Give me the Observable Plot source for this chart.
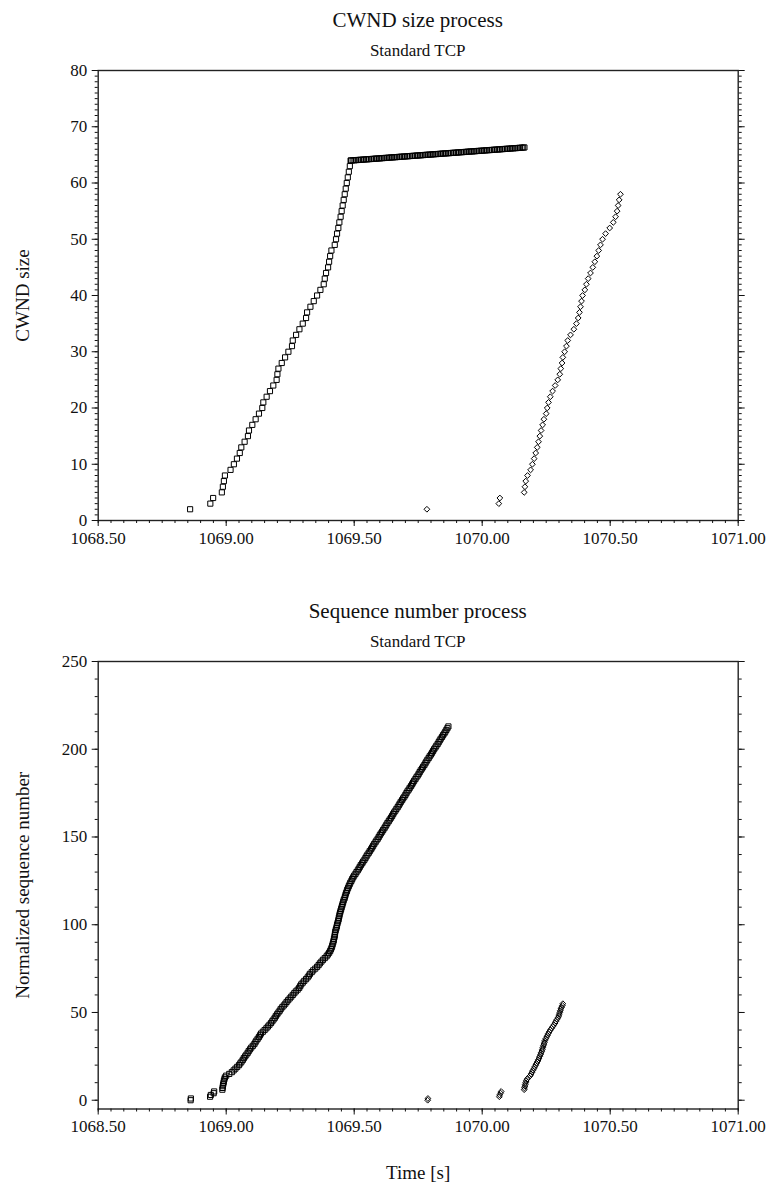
<!DOCTYPE html>
<html><head><meta charset="utf-8">
<script src="https://cdn.jsdelivr.net/npm/d3@7"></script>
<script src="https://cdn.jsdelivr.net/npm/@observablehq/plot@0.6"></script>
<style>
body{margin:0;background:#fff;width:769px;height:1187px;position:relative;font-family:"Liberation Serif","Times New Roman",serif;color:#111;overflow:hidden}
.t{position:absolute;left:97.7px;width:640px;text-align:center;white-space:nowrap}
.title{font-size:21px;line-height:24px}
.sub{font-size:17px;line-height:20px}
.c{position:absolute;left:0}
</style></head><body>
<div class="t title" style="top:8px">CWND size process</div>
<div class="t sub" style="top:41px">Standard TCP</div>
<div id="c1" class="c" style="top:60px"></div>
<div class="t title" style="top:599px">Sequence number process</div>
<div class="t sub" style="top:632px">Standard TCP</div>
<div id="c2" class="c" style="top:651px"></div>
<script>
// ---- axis tick values ----
const xMajorTicks = [1068.5, 1069.0, 1069.5, 1070.0, 1070.5, 1071.0];
const xMinorTicks = d3.range(1068.5, 1071.001, 0.05);
const cwndMajorTicks = [0, 10, 20, 30, 40, 50, 60, 70, 80];
const cwndMinorTicks = d3.range(0, 80.5, 1);
const seqMajorTicks = [0, 50, 100, 150, 200, 250];
const seqMinorTicks = d3.range(0, 250.5, 10);

// ---- CWND, connection 1 (squares): slow start ----
const cwndSqTime = [1068.859,1068.938,1068.949,1068.983,1068.987,1068.991,1068.995,1069.017,1069.030,1069.042,
  1069.053,1069.059,1069.072,1069.085,1069.089,1069.102,1069.115,1069.128,1069.141,1069.145,
  1069.158,1069.171,1069.184,1069.197,1069.200,1069.204,1069.217,1069.230,1069.243,1069.257,
  1069.260,1069.273,1069.286,1069.299,1069.312,1069.316,1069.329,1069.342,1069.355,1069.368,
  1069.381,1069.385,1069.390,1069.398,1069.402,1069.406,1069.411,1069.424,1069.429,1069.433,
  1069.438,1069.442,1069.447,1069.451,1069.455,1069.459,1069.463,1069.467,1069.471,1069.475,
  1069.479,1069.483,1069.486];
const cwndSqValue = [2,3,4,5,6,7,8,9,10,11,12,13,14,15,16,17,18,19,20,21,22,23,24,25,26,27,28,29,30,31,
  32,33,34,35,36,37,38,39,40,41,42,43,44,45,46,47,48,49,50,51,52,53,54,55,56,57,58,59,60,61,62,63,64];
// ---- CWND, connection 1 (squares): congestion avoidance ----
const cwndCaTime = [1069.488,1069.494,1069.501,1069.507,1069.514,1069.520,1069.526,1069.533,1069.539,1069.546,
  1069.552,1069.558,1069.565,1069.571,1069.578,1069.584,1069.590,1069.597,1069.603,1069.610,
  1069.616,1069.622,1069.629,1069.635,1069.642,1069.648,1069.654,1069.661,1069.667,1069.674,
  1069.680,1069.686,1069.693,1069.699,1069.706,1069.712,1069.718,1069.725,1069.731,1069.738,
  1069.744,1069.750,1069.757,1069.763,1069.770,1069.776,1069.782,1069.789,1069.795,1069.802,
  1069.808,1069.814,1069.821,1069.827,1069.834,1069.840,1069.846,1069.853,1069.859,1069.866,
  1069.872,1069.878,1069.885,1069.891,1069.898,1069.904,1069.910,1069.917,1069.923,1069.930,
  1069.936,1069.942,1069.949,1069.955,1069.962,1069.968,1069.974,1069.981,1069.987,1069.994,
  1070.000,1070.006,1070.013,1070.019,1070.026,1070.032,1070.038,1070.045,1070.051,1070.058,
  1070.064,1070.070,1070.077,1070.083,1070.090,1070.096,1070.102,1070.109,1070.115,1070.122,
  1070.128,1070.134,1070.141,1070.147,1070.154,1070.160,1070.165];
const cwndCaValue = [64.00,64.02,64.04,64.07,64.09,64.11,64.13,64.15,64.18,64.20,
  64.22,64.24,64.26,64.28,64.31,64.33,64.35,64.37,64.39,64.42,
  64.44,64.46,64.48,64.50,64.53,64.55,64.57,64.59,64.61,64.64,
  64.66,64.68,64.70,64.72,64.75,64.77,64.79,64.81,64.83,64.85,
  64.88,64.90,64.92,64.94,64.96,64.99,65.01,65.03,65.05,65.07,
  65.10,65.12,65.14,65.16,65.18,65.21,65.23,65.25,65.27,65.29,
  65.31,65.34,65.36,65.38,65.40,65.42,65.45,65.47,65.49,65.51,
  65.53,65.56,65.58,65.60,65.62,65.64,65.66,65.69,65.71,65.73,
  65.75,65.77,65.80,65.82,65.84,65.86,65.88,65.91,65.93,65.95,
  65.97,65.99,66.01,66.04,66.06,66.08,66.10,66.12,66.15,66.17,
  66.19,66.21,66.23,66.26,66.28,66.30,66.32];
// ---- CWND, connection 2 (diamonds) ----
const cwndDiTime = [1069.784,1070.065,1070.069,1070.164,1070.167,1070.170,1070.177,1070.189,1070.196,1070.203,
  1070.209,1070.215,1070.220,1070.225,1070.230,1070.236,1070.241,1070.250,1070.254,1070.259,
  1070.266,1070.275,1070.285,1070.295,1070.303,1070.307,1070.312,1070.315,1070.322,1070.329,
  1070.334,1070.345,1070.358,1070.368,1070.375,1070.380,1070.384,1070.388,1070.392,1070.401,
  1070.407,1070.414,1070.423,1070.432,1070.440,1070.448,1070.455,1070.462,1070.470,1070.482,
  1070.498,1070.512,1070.521,1070.527,1070.531,1070.535,1070.540];
const cwndDiValue = [2,3,4,5,6,7,8,9,10,11,12,13,14,15,16,17,18,19,20,21,22,23,24,25,26,27,28,29,30,31,
  32,33,34,35,36,37,38,39,40,41,42,43,44,45,46,47,48,49,50,51,52,53,54,55,56,57,58];

// ---- Sequence number, connection 1 (squares) ----
const seqSqTime = [1068.861,1068.862,1068.937,1068.940,1068.951,1068.953,1068.985,1068.986,1068.987,1068.988,
  1068.990,1068.991,1068.993,1068.995,1069.000,1069.012,1069.022,1069.029,1069.036,1069.043,
  1069.050,1069.055,1069.060,1069.065,1069.069,1069.074,1069.079,1069.084,1069.088,1069.093,
  1069.098,1069.104,1069.110,1069.114,1069.118,1069.123,1069.128,1069.132,1069.136,1069.143,
  1069.150,1069.157,1069.163,1069.169,1069.175,1069.180,1069.185,1069.190,1069.194,1069.199,
  1069.204,1069.209,1069.213,1069.219,1069.225,1069.231,1069.236,1069.242,1069.248,1069.254,
  1069.260,1069.266,1069.272,1069.279,1069.285,1069.289,1069.293,1069.299,1069.305,1069.312,
  1069.318,1069.323,1069.327,1069.334,1069.340,1069.348,1069.355,1069.361,1069.366,1069.372,
  1069.378,1069.385,1069.392,1069.397,1069.402,1069.406,1069.409,1069.412,1069.414,1069.416,
  1069.418,1069.420,1069.421,1069.423,1069.424,1069.425,1069.426,1069.428,1069.430,1069.432,
  1069.433,1069.435,1069.437,1069.439,1069.440,1069.442,1069.443,1069.445,1069.447,1069.449,
  1069.451,1069.453,1069.455,1069.457,1069.459,1069.462,1069.464,1069.466,1069.468,1069.471,
  1069.473,1069.476,1069.479,1069.482,1069.485,1069.489,1069.492,1069.496,1069.500,1069.505,
  1069.509,1069.514,1069.518,1069.522,1069.526,1069.531,1069.535,1069.540,1069.544,1069.548,
  1069.552,1069.557,1069.561,1069.566,1069.570,1069.574,1069.578,1069.583,1069.587,1069.592,
  1069.596,1069.600,1069.604,1069.609,1069.613,1069.618,1069.622,1069.626,1069.630,1069.635,
  1069.639,1069.644,1069.648,1069.652,1069.656,1069.661,1069.665,1069.670,1069.674,1069.678,
  1069.682,1069.687,1069.691,1069.696,1069.700,1069.704,1069.708,1069.713,1069.717,1069.722,
  1069.726,1069.730,1069.734,1069.739,1069.743,1069.748,1069.752,1069.756,1069.760,1069.765,
  1069.769,1069.774,1069.778,1069.782,1069.786,1069.791,1069.795,1069.800,1069.804,1069.808,
  1069.812,1069.817,1069.821,1069.826,1069.830,1069.834,1069.838,1069.843,1069.847,1069.852,
  1069.856,1069.860,1069.864,1069.868];
const seqSqValue = [0,1,2,3,4,5,6,7,8,9,10,11,12,13,14,15,16,17,18,19,
  20,21,22,23,24,25,26,27,28,29,30,31,32,33,34,35,36,37,38,39,
  40,41,42,43,44,45,46,47,48,49,50,51,52,53,54,55,56,57,58,59,
  60,61,62,63,64,65,66,67,68,69,70,71,72,73,74,75,76,77,78,79,
  80,81,82,83,84,85,86,87,88,89,90,91,92,93,94,95,96,97,98,99,
  100,101,102,103,104,105,106,107,108,109,110,111,112,113,114,115,116,117,118,119,
  120,121,122,123,124,125,126,127,128,129,130,131,132,133,134,135,136,137,138,139,
  140,141,142,143,144,145,146,147,148,149,150,151,152,153,154,155,156,157,158,159,
  160,161,162,163,164,165,166,167,168,169,170,171,172,173,174,175,176,177,178,179,
  180,181,182,183,184,185,186,187,188,189,190,191,192,193,194,195,196,197,198,199,
  200,201,202,203,204,205,206,207,208,209,210,211,212,213];
// ---- Sequence number, connection 2 (diamonds) ----
const seqDiTime = [1069.787,1069.788,1070.067,1070.068,1070.072,1070.074,1070.164,1070.165,1070.167,1070.168,
  1070.170,1070.172,1070.175,1070.181,1070.188,1070.191,1070.195,1070.198,1070.202,1070.205,
  1070.209,1070.212,1070.216,1070.219,1070.222,1070.225,1070.228,1070.230,1070.233,1070.235,
  1070.237,1070.239,1070.241,1070.243,1070.245,1070.248,1070.252,1070.255,1070.258,1070.262,
  1070.266,1070.271,1070.276,1070.280,1070.285,1070.288,1070.292,1070.296,1070.299,1070.301,
  1070.303,1070.305,1070.307,1070.310,1070.313,1070.315];
const seqDiValue = [0,1,2,3,4,5,6,7,8,9,10,11,12,13,14,15,16,17,18,19,
  20,21,22,23,24,25,26,27,28,29,30,31,32,33,34,35,36,37,38,39,
  40,41,42,43,44,45,46,47,48,49,50,51,52,53,54,55];

const zip = (t, v) => t.map((x, i) => ({t: x, v: v[i]}));

function chart({squares, diamonds, yDomain, yMajor, yMinor, yLabel, xLabel, frameH, marginBottom}) {
  const marks = [
    Plot.frame({stroke: "#222", strokeWidth: 1.4}),
    Plot.axisX({ticks: xMinorTicks, tickSize: 3, tickFormat: () => "", label: null}),
    Plot.axisX({ticks: xMajorTicks, tickSize: 6, tickPadding: 5, tickFormat: d3.format(".2f"), label: null}),
    Plot.axisY({anchor: "left", ticks: yMinor, tickSize: 3, tickFormat: () => "", label: null}),
    Plot.axisY({anchor: "left", ticks: yMajor, tickSize: 6, tickPadding: 5, tickFormat: d3.format("d"), label: null}),
    Plot.axisY({anchor: "right", ticks: yMinor, tickSize: 3, tickFormat: () => "", label: null}),
    Plot.axisY({anchor: "right", ticks: yMajor, tickSize: 6, tickFormat: () => "", label: null}),
    ...squares.map(s => Plot.dot(s, {x: "t", y: "v", symbol: "square", r: 2.9, stroke: "#000", strokeWidth: 1, fill: "none"})),
    ...diamonds.map(s => Plot.dot(s, {x: "t", y: "v", symbol: "diamond2", r: 2.6, stroke: "#000", strokeWidth: 1, fill: "none"})),
    Plot.text([yLabel], {text: d => d, frameAnchor: "left", textAnchor: "middle", lineAnchor: "middle", rotate: -90, dx: -75.7, fontSize: 19})
  ];
  if (xLabel) marks.push(Plot.text([xLabel], {text: d => d, frameAnchor: "bottom", textAnchor: "middle", lineAnchor: "middle", dy: 63.5, fontSize: 19}));
  return Plot.plot({
    width: 769,
    height: 10 + frameH + marginBottom,
    marginTop: 10,
    marginBottom,
    marginLeft: 97.7,
    marginRight: 31.3,
    style: {fontFamily: "'Liberation Serif', 'Times New Roman', serif", fontSize: "17px", color: "#111", background: "#fff", overflow: "visible"},
    x: {domain: [1068.5, 1071.0]},
    y: {domain: yDomain},
    marks
  });
}

document.getElementById("c1").append(chart({
  squares: [zip(cwndSqTime, cwndSqValue), zip(cwndCaTime, cwndCaValue)],
  diamonds: [zip(cwndDiTime, cwndDiValue)],
  yDomain: [0, 80], yMajor: cwndMajorTicks, yMinor: cwndMinorTicks,
  yLabel: "CWND size", xLabel: null, frameH: 450, marginBottom: 50
}));
document.getElementById("c2").append(chart({
  squares: [zip(seqSqTime, seqSqValue)],
  diamonds: [zip(seqDiTime, seqDiValue)],
  yDomain: [-5, 250], yMajor: seqMajorTicks, yMinor: seqMinorTicks,
  yLabel: "Normalized sequence number", xLabel: "Time [s]", frameH: 447.5, marginBottom: 76
}));
</script>
</body></html>
